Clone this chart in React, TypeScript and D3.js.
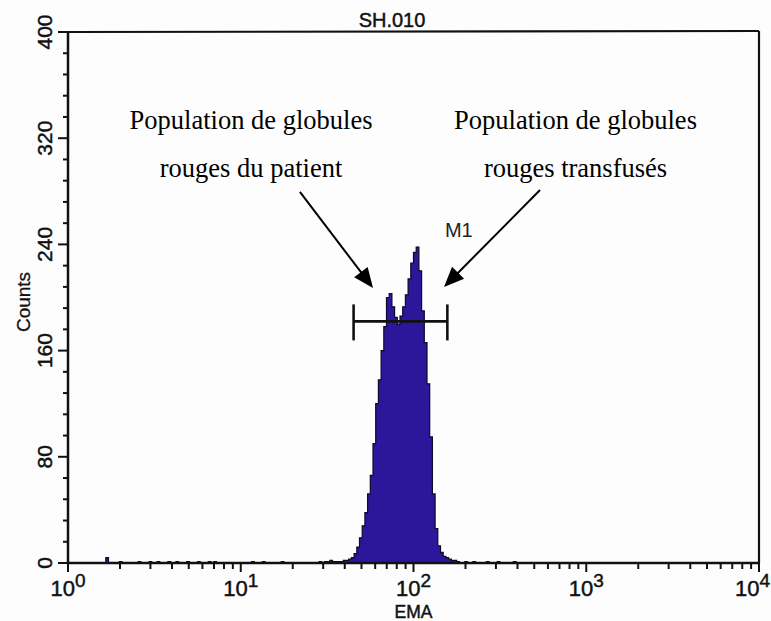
import React from 'react';
import * as d3 from 'd3';

// ---------- data ----------
const title = 'SH.010';
const xLabel = 'EMA';
const yLabel = 'Counts';
const xDecades = [0, 1, 2, 3, 4];
const yMajorTicks = [0, 80, 160, 240, 320, 400];
const yMinorTicks = [16, 32, 48, 64, 96, 112, 128, 144, 176, 192, 208, 224, 256, 272, 288, 304, 336, 352, 368, 384];
const channelsPerDecade = 64;
const channelCount = 256;

// main population histogram (channel counts starting at peakStartChannel)
const peakStartChannel = 100;
const peakCounts = [
  1, 1, 2, 2, 3, 4, 7, 12, 19, 28, 38, 52, 66, 90, 120, 138, 160, 178, 200, 203,
  193, 185, 180, 186, 193, 202, 214, 226, 234, 238, 220, 190, 166, 135, 95, 52, 26, 13, 8, 5,
  4, 3, 2, 2, 1,
];
// scattered low events along the baseline
const noiseChannels = [14, 19, 26, 30, 33, 37, 40, 44, 48, 52, 54, 68, 72, 79, 93, 95, 96, 97, 98, 99, 147, 150, 155, 159, 165];
const noiseCounts = [4, 1, 1, 1, 1, 1, 1, 1, 1, 1, 1, 1, 1, 1, 1, 1, 1, 2, 1, 1, 1, 1, 1, 1, 1];

// gate marker
const markerLabel = 'M1';
const markerRange = [45, 157];
const markerLevel = 182;
const markerLabelAt = [152, 245.6];

// annotations (EMA value, count)
const annLeftLines = ['Population de globules', 'rouges du patient'];
const annRightLines = ['Population de globules', 'rouges transfusés'];
const annLineCounts = [327, 291];
const annLeftX = 11.47;
const annRightX = 866.6;
const arrowLeft = { from: [22.0, 279.5], to: [58.3, 207.2] };
const arrowRight = { from: [540, 281], to: [150.2, 207.9] };

// ---------- layout ----------
const W = 771;
const H = 621;
const plotLeft = 68;
const plotRight = 759;
const plotTop = 32;
const plotBottom = 563;

const sans = '"Liberation Sans", Arial, Helvetica, sans-serif';
const serif = '"Liberation Serif", "Times New Roman", Times, serif';
const ink = '#111';
const fillColor = '#2c169a';

export default function App() {
  const x = d3.scaleLog().domain([1, 10000]).range([plotLeft, plotRight]);
  const y = d3.scaleLinear().domain([0, 400]).range([plotBottom, plotTop]);

  const counts: number[] = new Array(channelCount).fill(0);
  peakCounts.forEach((c, i) => { counts[peakStartChannel + i] = c; });
  noiseChannels.forEach((ch, i) => { counts[ch] = noiseCounts[i]; });
  const pts = counts.map((c, i) => ({ v: Math.pow(10, i / channelsPerDecade), c }));
  pts.push({ v: Math.pow(10, channelCount / channelsPerDecade), c: 0 });

  const area = d3.area<{ v: number; c: number }>()
    .x(d => x(d.v))
    .y0(y(0))
    .y1(d => y(d.c))
    .curve(d3.curveStepAfter);

  const minorX: number[] = [];
  for (let d = 0; d < 4; d++) for (let k = 2; k <= 9; k++) minorX.push(k * Math.pow(10, d));

  const arrow = (a: { from: number[]; to: number[] }, key: string) => {
    const x1 = x(a.from[0]), y1 = y(a.from[1]);
    const x2 = x(a.to[0]), y2 = y(a.to[1]);
    const ang = Math.atan2(y2 - y1, x2 - x1);
    const len = 20, half = 8.5;
    const bx = x2 - len * Math.cos(ang), by = y2 - len * Math.sin(ang);
    const px = -Math.sin(ang) * half, py = Math.cos(ang) * half;
    return (
      <g key={key}>
        <line x1={x1} y1={y1} x2={bx + 2 * Math.cos(ang)} y2={by + 2 * Math.sin(ang)} stroke="#000" strokeWidth={2} />
        <polygon points={`${x2},${y2} ${bx + px},${by + py} ${bx - px},${by - py}`} fill="#000" />
      </g>
    );
  };

  const lab = { fontFamily: sans, fill: ink, stroke: ink, strokeWidth: 0.45 } as const;

  return (
    <svg width={W} height={H} style={{ position: 'absolute', left: 0, top: 0, background: '#fdfdfd' }}>
      <rect x={0} y={0} width={W} height={H} fill="#fdfdfd" />

      {/* histogram */}
      <path d={area(pts) || ''} fill={fillColor} stroke="#0a0a2a" strokeWidth={1.2} strokeLinejoin="miter" />

      {/* frame */}
      <line x1={plotLeft} y1={plotTop} x2={plotRight} y2={plotTop - 1} stroke={ink} strokeWidth={2.2} />
      <line x1={plotRight} y1={plotTop - 1} x2={plotRight} y2={plotBottom} stroke={ink} strokeWidth={2.2} />
      <line x1={plotLeft} y1={plotTop - 1} x2={plotLeft} y2={plotBottom + 1} stroke={ink} strokeWidth={2.5} />
      <line x1={plotLeft - 1} y1={plotBottom} x2={plotRight + 1} y2={plotBottom} stroke={ink} strokeWidth={2.5} />

      {/* y ticks */}
      {yMajorTicks.map(t => (
        <g key={'ym' + t}>
          <line x1={plotLeft - 10} x2={plotLeft} y1={y(t)} y2={y(t)} stroke={ink} strokeWidth={2} />
          <text transform={`translate(52,${y(t)}) rotate(-90)`} textAnchor="middle" fontSize={21} {...lab}>{t}</text>
        </g>
      ))}
      {yMinorTicks.map(t => (
        <line key={'yn' + t} x1={plotLeft - 5} x2={plotLeft} y1={y(t)} y2={y(t)} stroke={ink} strokeWidth={2} />
      ))}

      {/* x ticks */}
      {xDecades.map((d, i) => {
        const last = i === xDecades.length - 1;
        return (
          <g key={'xm' + d}>
            <line x1={x(Math.pow(10, d))} x2={x(Math.pow(10, d))} y1={plotBottom} y2={plotBottom + 9} stroke={ink} strokeWidth={2} />
            <text x={last ? W - 1 : x(Math.pow(10, d))} y={596} textAnchor={last ? 'end' : 'middle'} {...lab}>
              <tspan fontSize={22}>10</tspan>
              <tspan fontSize={19} dy={-9}>{d}</tspan>
            </text>
          </g>
        );
      })}
      {minorX.map(v => (
        <line key={'xn' + v} x1={x(v)} x2={x(v)} y1={plotBottom} y2={plotBottom + 6} stroke={ink} strokeWidth={2} />
      ))}

      {/* axis titles */}
      <text x={(x(10) + x(1000)) / 2} y={618} textAnchor="middle" fontSize={17.5} {...lab}>{xLabel}</text>
      <text transform={`translate(30,302) rotate(-90)`} textAnchor="middle" fontSize={19} {...lab} strokeWidth={0.3}>{yLabel}</text>
      <text x={392} y={27} textAnchor="middle" fontSize={20} {...lab}>{title}</text>

      {/* marker */}
      <g stroke="#111" strokeWidth={2.6}>
        <line x1={x(markerRange[0])} x2={x(markerRange[1])} y1={y(markerLevel)} y2={y(markerLevel)} />
        <line x1={x(markerRange[0])} x2={x(markerRange[0])} y1={y(markerLevel) - 17} y2={y(markerLevel) + 19} />
        <line x1={x(markerRange[1])} x2={x(markerRange[1])} y1={y(markerLevel) - 17} y2={y(markerLevel) + 19} />
      </g>
      <text x={x(markerLabelAt[0])} y={y(markerLabelAt[1])} fontFamily={sans} fontSize={20} fill="#222">{markerLabel}</text>

      {/* annotations */}
      {annLeftLines.map((l, i) => (
        <text key={'al' + i} x={x(annLeftX)} y={y(annLineCounts[i])} textAnchor="middle" fontFamily={serif} fontSize={26.5} fill="#000">{l}</text>
      ))}
      {annRightLines.map((l, i) => (
        <text key={'ar' + i} x={x(annRightX)} y={y(annLineCounts[i])} textAnchor="middle" fontFamily={serif} fontSize={26.5} fill="#000">{l}</text>
      ))}
      {arrow(arrowLeft, 'aL')}
      {arrow(arrowRight, 'aR')}
    </svg>
  );
}
